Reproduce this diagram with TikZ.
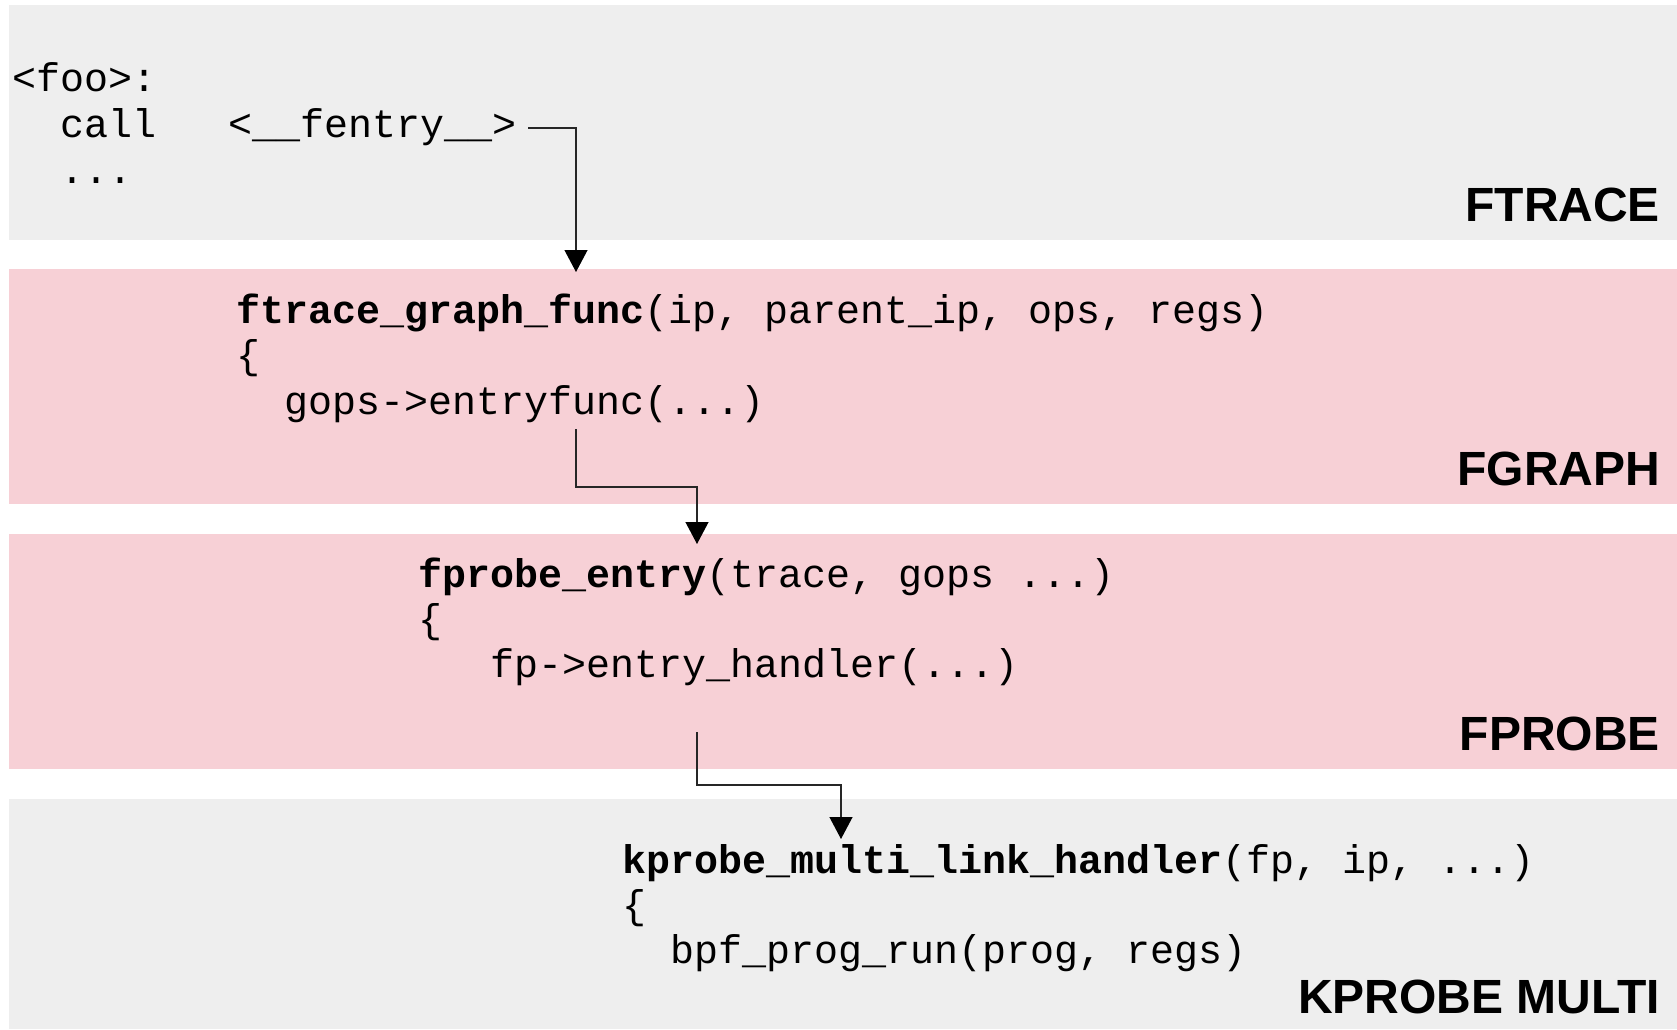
\documentclass[tikz,border=0pt]{standalone}
\usepackage{fontspec}
\setmainfont{Liberation Sans}
\setsansfont{Liberation Sans}
\setmonofont{Liberation Mono}
\usetikzlibrary{arrows.meta}
\definecolor{bandgray}{RGB}{238,238,238}
\definecolor{bandpink}{RGB}{247,208,214}
\begin{document}
\begin{tikzpicture}[x=0.5pt,y=-0.5pt,
  codeline/.style={anchor=base west,inner sep=0pt,outer sep=0pt,
    font=\ttfamily\fontsize{20pt}{22.75pt}\selectfont},
  layerlabel/.style={anchor=base east,inner sep=0pt,outer sep=0pt,
    font=\sffamily\bfseries\fontsize{24pt}{28pt}\selectfont},
  conn/.style={draw=black!85,line width=0.6pt,
    -{Triangle[length=11pt,width=11.5pt,fill=black,color=black]}}]
\useasboundingbox (0,0) rectangle (1677,1029);
\fill[white] (0,0) rectangle (1677,1029);
% bands
\fill[bandgray] (9,5) rectangle (1677,240);
\fill[bandpink] (9,269) rectangle (1677,504);
\fill[bandpink] (9,534) rectangle (1677,769);
\fill[bandgray] (9,799) rectangle (1677,1029);
% layer labels
\node[layerlabel] (lftrace) at (1660,221) {FTRACE};
\node[layerlabel] (lfgraph) at (1660,485) {FGRAPH};
\node[layerlabel] (lfprobe) at (1660,750) {FPROBE};
\node[layerlabel] (lkprobe) at (1660,1013) {KPROBE MULTI};
% FTRACE code
\node[codeline] (foo) at (12,91) {<foo>:};
\node[codeline] (call) at (12,137) {~~call~~~<\_\_fentry\_\_>};
\node[codeline] (dots) at (12,183) {~~...};
% FGRAPH code
\node[codeline] (fg1) at (236,323) {\textbf{ftrace\_graph\_func}(ip, parent\_ip, ops, regs)};
\node[codeline] (fg2) at (236,368.5) {\{};
\node[codeline] (fg3) at (236,414) {~~gops->entryfunc(...)};
% FPROBE code
\node[codeline] (fp1) at (418,587) {\textbf{fprobe\_entry}(trace, gops ...)};
\node[codeline] (fp2) at (418,632) {\{};
\node[codeline] (fp3) at (418,677) {~~~fp->entry\_handler(...)};
% KPROBE code
\node[codeline] (kp1) at (622,873) {\textbf{kprobe\_multi\_link\_handler}(fp, ip, ...)};
\node[codeline] (kp2) at (622,918) {\{};
\node[codeline] (kp3) at (622,963) {~~bpf\_prog\_run(prog, regs)};
% connectors
\coordinate (a1s) at (528,128);
\coordinate (a1e) at (576,272);
\draw[conn] (a1s) -| (a1e);
\coordinate (a2s) at (576,429);
\coordinate (a2k) at (576,487);
\coordinate (a2e) at (697,544);
\draw[conn] (a2s) -- (a2k) -| (a2e);
\coordinate (a3s) at (697,732);
\coordinate (a3k) at (697,785);
\coordinate (a3e) at (841,839);
\draw[conn] (a3s) -- (a3k) -| (a3e);
\end{tikzpicture}
\end{document}
